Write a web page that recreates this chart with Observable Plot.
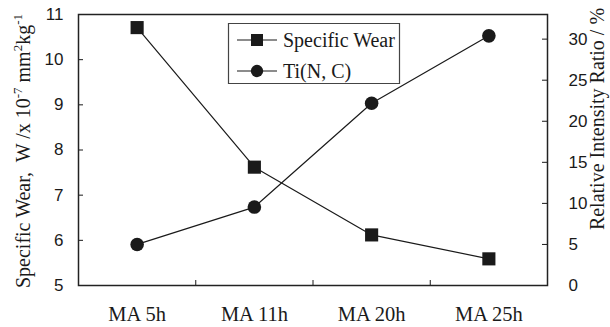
<!DOCTYPE html>
<html><head><meta charset="utf-8">
<script src="https://cdn.jsdelivr.net/npm/d3@7"></script>
<script src="https://cdn.jsdelivr.net/npm/@observablehq/plot@0.6"></script>
<style>
html,body{margin:0;padding:0;background:#fff;}
#chart{position:relative;width:610px;height:327px;}
</style></head><body><div id="chart"></div>
<script>
const categories = ["MA 5h", "MA 11h", "MA 20h", "MA 25h"];
const specificWear = [10.71, 7.62, 6.12, 5.59];
const tiNC = [5.0, 9.55, 22.2, 30.4];
const leftTicks = [5, 6, 7, 8, 9, 10, 11];
const rightTicks = [0, 5, 10, 15, 20, 25, 30];
const seriesNames = ["Specific Wear", "Ti(N, C)"];
const seriesSymbols = ["square", "circle"];

const leftDomain = [5, 11];
const rightDomain = [0, 33];
const right = d3.scaleLinear(rightDomain, leftDomain);

const rows = categories.map((c, i) => ({i: i + 1, cat: c, wear: specificWear[i], ti: tiNC[i]}));
const boundaries = categories.slice(1).map((c, i) => i + 1.5);

const W = 610, H = 327, mL = 78, mR = 63, mT = 14, mB = 42;
const frameW = W - mL - mR, frameH = H - mT - mB, tickLen = 5;

const serif = "'Liberation Serif','Times New Roman',serif";
const sans = "'Liberation Sans Narrow','Liberation Sans',Arial,sans-serif";
const ink = "#1a1a1a";

const svg = Plot.plot({
  width: W, height: H,
  marginLeft: mL, marginRight: mR, marginTop: mT, marginBottom: mB,
  style: {background: "#fff", fontFamily: sans, fontSize: "17px", color: ink},
  x: {type: "linear", domain: [0.5, categories.length + 0.5]},
  y: {domain: leftDomain},
  marks: [
    Plot.axisX({ticks: rows.map(d => d.i), tickSize: 0, tickPadding: 21, tickFormat: i => categories[i - 1], fontFamily: serif, fontSize: 20.5, label: null}),
    Plot.tickX(boundaries, {x: d => d, insetTop: frameH - tickLen, stroke: ink}),
    Plot.axisY({ticks: leftTicks, tickSize: 0, tickPadding: 15, tickFormat: d => String(d), label: null}),
    Plot.tickY(leftTicks, {y: d => d, insetRight: frameW - tickLen, stroke: ink}),
    Plot.axisY(rightTicks, {anchor: "right", y: right, tickSize: 0, tickPadding: 21, tickFormat: d => String(d), label: null}),
    Plot.tickY(rightTicks, {y: right, insetLeft: frameW - tickLen, stroke: ink}),
    Plot.line(rows, {x: "i", y: "wear", stroke: ink, strokeWidth: 1.2}),
    Plot.dot(rows, {x: "i", y: "wear", symbol: "square", r: 7.4, fill: ink}),
    Plot.line(rows, {x: "i", y: d => right(d.ti), stroke: ink, strokeWidth: 1.2}),
    Plot.dot(rows, {x: "i", y: d => right(d.ti), symbol: "circle", r: 6.8, fill: ink}),
    Plot.frame({stroke: "#222", strokeWidth: 1.5})
  ]
});
document.getElementById("chart").appendChild(svg);

const s = d3.select(svg);
// Left axis title with superscripts
const lt = s.append("text")
  .attr("transform", "translate(30,151) rotate(-90)")
  .attr("text-anchor", "middle")
  .style("font-family", serif).style("font-size", "20px").style("fill", ink);
const parts = [["Specific Wear,  W /x 10", 0], ["-7", 1], [" mm", 0], ["2", 1], ["kg", 0], ["-1", 1]];
let up = false;
for (const [t, sup] of parts) {
  const ts = lt.append("tspan").text(t).style("white-space", "pre");
  if (sup && !up) { ts.attr("dy", -8).style("font-size", "13px"); up = true; }
  else if (sup) { ts.style("font-size", "13px"); }
  else if (!sup && up) { ts.attr("dy", 8); up = false; }
}
// Right axis title
s.append("text")
  .attr("transform", "translate(604,119) rotate(-90)")
  .attr("text-anchor", "middle")
  .style("font-family", serif).style("font-size", "20px").style("fill", ink)
  .text("Relative Intensity Ratio / %");

// Legend
const lg = s.append("g").attr("text-anchor", "start");
lg.append("path").attr("d", "M228.5,23.5H399.5V83.5H228.5Z")
  .style("fill", "#fff").style("stroke", "#444").style("stroke-width", "1.2px");
const rowsY = [40, 71];
seriesNames.forEach((name, k) => {
  const y = rowsY[k];
  lg.append("line").attr("x1", 237).attr("x2", 277).attr("y1", y).attr("y2", y).style("stroke", ink).style("stroke-width", "1.2px");
  lg.append("path").attr("transform", `translate(257,${y})`)
    .attr("d", d3.symbol(seriesSymbols[k] === "square" ? d3.symbolSquare : d3.symbolCircle, seriesSymbols[k] === "square" ? 144 : 120)())
    .style("fill", ink);
  lg.append("text").attr("x", 283).attr("y", y + 7).attr("text-anchor", "start")
    .style("font-family", serif).style("font-size", "20px").style("fill", ink).text(name);
});
</script></body></html>
